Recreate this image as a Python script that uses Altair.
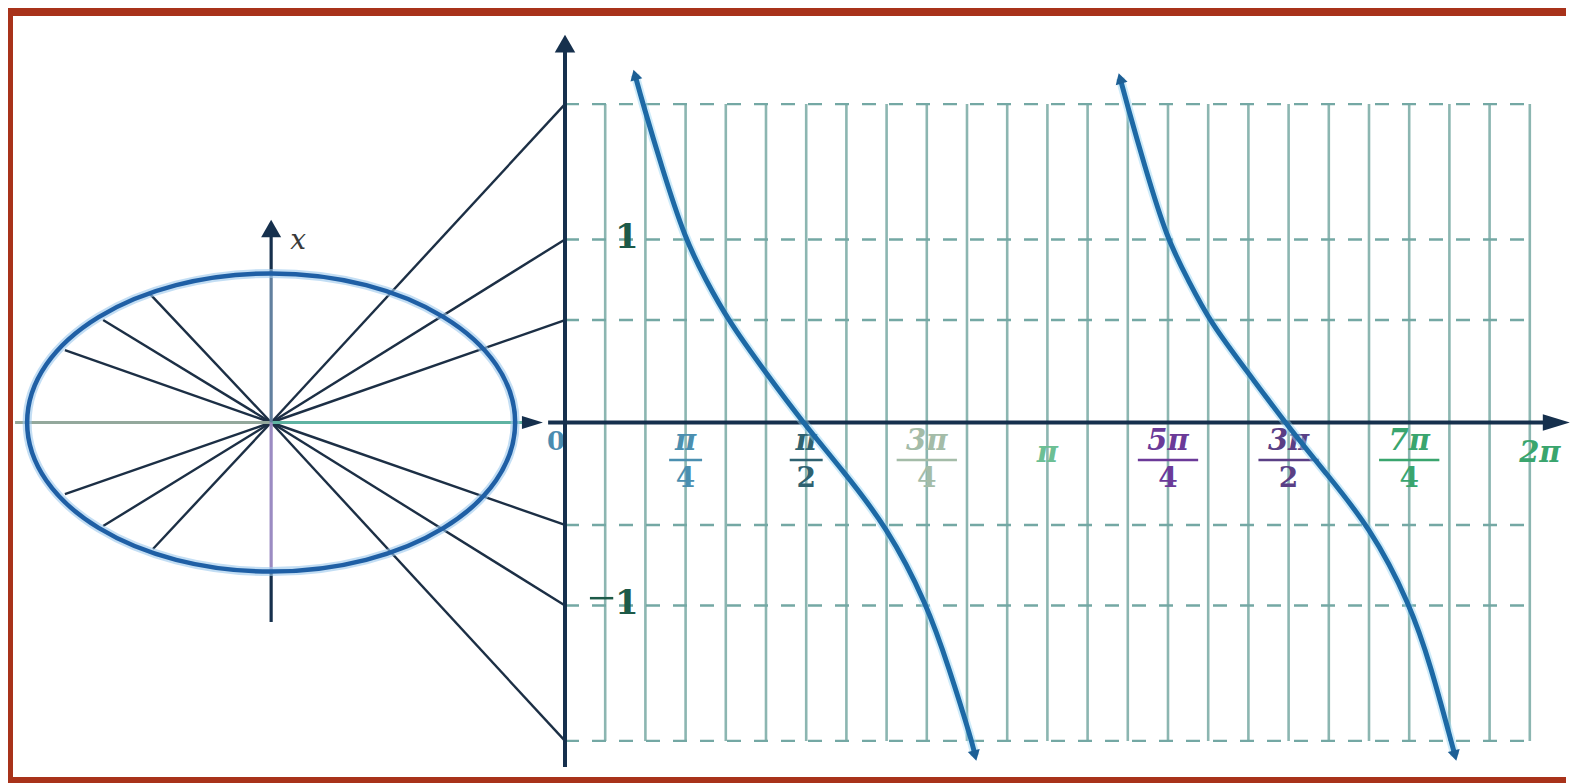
import altair as alt
import pandas as pd

# ---------------- data (x in units of pi/12, y in cot units) ----------------
grid_k = list(range(1, 25))
grid_top, grid_bottom = 1.74, -1.74
dash_levels = [1.74, 1.0, 0.56, -0.56, -1.0, -1.74]
dash_end = 24.0

circle_cx, circle_cy = -7.31, 0.0
ray_right_y = [1.74, 1.0, 0.56, -0.56, -1.0, -1.74]
ray_left_x = [-12.44, -11.49, -10.35, -12.44, -11.49, -10.25]
ray_left_y = [0.396, 0.56, 0.708, -0.391, -0.566, -0.691]

curve1_x = [1.74, 1.94, 2.40, 2.99, 3.50, 4.05, 5.00, 5.92, 6.90, 8.01, 9.00, 9.55, 10.12, 10.20]
curve1_y = [1.90, 1.74, 1.40, 1.00, 0.78, 0.56, 0.27, 0.00, -0.26, -0.57, -0.99, -1.34, -1.74, -1.82]
curve2_x = [13.81, 13.98, 14.42, 14.98, 15.50, 16.04, 17.00, 17.91, 18.90, 20.02, 21.02, 21.55, 22.04, 22.14]
curve2_y = [1.88, 1.74, 1.40, 1.00, 0.78, 0.55, 0.27, 0.00, -0.27, -0.57, -0.99, -1.34, -1.74, -1.82]

frac_pos = [3, 6, 9, 15, 18, 21]
frac_num = ["π", "π", "3π", "5π", "3π", "7π"]
frac_den = ["4", "2", "4", "4", "2", "4"]
frac_col = ["#4b8fb0", "#2f6270", "#a4bca8", "#6b3a98", "#5a3f85", "#3aa56e"]
frac_wide = [0, 0, 1, 1, 1, 1]
single_pos = [12, 24.25]
single_txt = ["π", "2π"]
single_col = ["#6cbf94", "#3aa56e"]

# ---------------- layout ----------------
W, H = 1570, 775
PX, PY = 40.2, 183.0
X0, Y0 = 557.0, 414.5
xs = alt.Scale(domain=[-X0 / PX, (W - X0) / PX], nice=False, zero=False)
ys = alt.Scale(domain=[-(H - Y0) / PY, Y0 / PY], nice=False, zero=False)

NAVY = "#16304d"


def X(f="x"):
    return alt.X(f"{f}:Q", scale=xs, axis=None)


def Y(f="y"):
    return alt.Y(f"{f}:Q", scale=ys, axis=None)


def rules(df, **kw):
    return alt.Chart(df).mark_rule(**kw).encode(
        x=X("x"), x2="x2:Q", y=Y("y"), y2="y2:Q"
    )


layers = []

# frame (decoration)
one = pd.DataFrame({"a": [0]})
RED = "#a8321a"
layers.append(alt.Chart(one).mark_rule(color=RED, strokeWidth=6).encode(
    x=alt.value(2), y=alt.value(0), y2=alt.value(H)))
layers.append(alt.Chart(one).mark_rule(color=RED, strokeWidth=8).encode(
    x=alt.value(0), x2=alt.value(W - 12), y=alt.value(4)))
layers.append(alt.Chart(one).mark_rule(color=RED, strokeWidth=6).encode(
    x=alt.value(0), x2=alt.value(W - 12), y=alt.value(H - 3)))

# vertical grid lines
gdf = pd.DataFrame({"x": grid_k, "x2": grid_k,
                    "y": [grid_bottom] * len(grid_k), "y2": [grid_top] * len(grid_k)})
layers.append(rules(gdf, color="#8cb6b1", strokeWidth=2.6))

# dashed horizontal lines
ddf = pd.DataFrame({"x": [0] * len(dash_levels), "x2": [dash_end] * len(dash_levels),
                    "y": dash_levels, "y2": dash_levels})
layers.append(rules(ddf, color="#74a8a4", strokeWidth=2.4, strokeDash=[14, 13]))

# rays from the centre of the circle
rr = pd.DataFrame({"x": [circle_cx] * 6, "y": [circle_cy] * 6,
                   "x2": [0] * 6, "y2": ray_right_y})
layers.append(rules(rr, color="#1c2f45", strokeWidth=2.4))
rl = pd.DataFrame({"x": [circle_cx] * 6, "y": [circle_cy] * 6,
                   "x2": ray_left_x, "y2": ray_left_y})
layers.append(rules(rl, color="#1c2f45", strokeWidth=2.4))

# circle axes (coloured segments)
seg = pd.DataFrame({
    "x": [-13.68, circle_cx, circle_cx, circle_cx, circle_cx, circle_cx],
    "x2": [circle_cx, -0.85, circle_cx, circle_cx, circle_cx, circle_cx],
    "y": [0, 0, 0.814, 0, -0.814, -1.09],
    "y2": [0, 0, 1.03, 0.814, 0, -0.814],
    "c": ["#93a89c", "#5fb3a2", NAVY, "#62809f", "#9b8bc2", NAVY],
})
layers.append(alt.Chart(seg).mark_rule(strokeWidth=3.2).encode(
    x=X("x"), x2="x2:Q", y=Y("y"), y2="y2:Q", color=alt.Color("c:N", scale=None)))

# ellipse ("unit circle")
k, c = 0.611, 0.5523
ck = c * k
ell = (f"M-1,0 C-1,-{ck:.4f} -{c},-{k} 0,-{k} C{c},-{k} 1,-{ck:.4f} 1,0 "
       f"C1,{ck:.4f} {c},{k} 0,{k} C-{c},{k} -1,{ck:.4f} -1,0 Z")
cdf = pd.DataFrame({"x": [circle_cx], "y": [circle_cy]})
layers.append(alt.Chart(cdf).mark_point(shape=ell, filled=False, size=488 ** 2,
                                        stroke="#9cc9ee", strokeWidth=9, opacity=0.6).encode(x=X(), y=Y()))
layers.append(alt.Chart(cdf).mark_point(shape=ell, filled=False, size=488 ** 2,
                                        stroke="#1f5fa5", strokeWidth=4.5, opacity=1).encode(x=X(), y=Y()))

# labels near axes
layers.append(alt.Chart(pd.DataFrame({"x": [-6.64], "y": [0.99], "t": ["x"]})).mark_text(
    font="DejaVu Serif", fontStyle="italic", fontSize=28, color="#3a3a3a").encode(x=X(), y=Y(), text="t:N"))
layers.append(alt.Chart(pd.DataFrame({"x": [-0.22], "y": [-0.107], "t": ["0"]})).mark_text(
    font="DejaVu Serif", fontWeight="bold", fontSize=26, color="#4a8cb0").encode(x=X(), y=Y(), text="t:N"))

# arrow shapes
ARW_R = "M-1,-0.62 L1,0 L-1,0.62 Z"
layers.append(alt.Chart(pd.DataFrame({"x": [-0.81], "y": [0]})).mark_point(
    shape=ARW_R, filled=True, size=441, color=NAVY, opacity=1).encode(x=X(), y=Y()))
layers.append(alt.Chart(pd.DataFrame({"x": [circle_cx], "y": [1.06]})).mark_point(
    shape="triangle-up", filled=True, size=400, color=NAVY, opacity=1).encode(x=X(), y=Y()))

# main axes
ax = pd.DataFrame({"x": [-0.42, 0], "x2": [24.38, 0], "y": [0, -1.883], "y2": [0, 2.03]})
layers.append(rules(ax, color=NAVY, strokeWidth=4))
layers.append(alt.Chart(pd.DataFrame({"x": [24.66], "y": [0]})).mark_point(
    shape=ARW_R, filled=True, size=729, color=NAVY, opacity=1).encode(x=X(), y=Y()))
layers.append(alt.Chart(pd.DataFrame({"x": [0], "y": [2.07]})).mark_point(
    shape="triangle-up", filled=True, size=420, color=NAVY, opacity=1).encode(x=X(), y=Y()))

# y labels
layers.append(alt.Chart(pd.DataFrame({"x": [1.54], "y": [1.01], "t": ["1"]})).mark_text(
    font="DejaVu Serif", fontWeight="bold", fontSize=34, color="#1d5a48").encode(x=X(), y=Y(), text="t:N"))
layers.append(alt.Chart(pd.DataFrame({"x": [1.54], "y": [-0.99], "t": ["1"]})).mark_text(
    font="DejaVu Serif", fontWeight="bold", fontSize=34, color="#1d5a48").encode(x=X(), y=Y(), text="t:N"))
layers.append(rules(pd.DataFrame({"x": [0.62], "x2": [1.2], "y": [-0.96], "y2": [-0.96]}),
                    color="#1d5a48", strokeWidth=2.5))

# fraction labels
fr = pd.DataFrame({"x": frac_pos, "num": frac_num, "den": frac_den, "c": frac_col,
                   "w": frac_wide})
fr["ynum"] = -0.101
fr["yden"] = -0.309
fr["ybar"] = -0.205
fr["xl"] = fr["x"] - 0.41 - 0.34 * fr["w"]
fr["xr"] = fr["x"] + 0.41 + 0.34 * fr["w"]
num_txt = dict(font="DejaVu Serif", fontWeight="bold", fontStyle="italic", fontSize=29,
               align="center", baseline="middle")
den_txt = dict(font="DejaVu Serif", fontWeight="bold", fontSize=28,
               align="center", baseline="middle")
layers.append(alt.Chart(fr).mark_text(**num_txt).encode(
    x=X("x"), y=Y("ynum"), text="num:N", color=alt.Color("c:N", scale=None)))
layers.append(alt.Chart(fr).mark_text(**den_txt).encode(
    x=X("x"), y=Y("yden"), text="den:N", color=alt.Color("c:N", scale=None)))
layers.append(alt.Chart(fr).mark_rule(strokeWidth=2.5).encode(
    x=X("xl"), x2="xr:Q", y=Y("ybar"), y2="ybar:Q", color=alt.Color("c:N", scale=None)))
sg = pd.DataFrame({"x": single_pos, "t": single_txt, "c": single_col})
sg["y"] = -0.167
layers.append(alt.Chart(sg).mark_text(**num_txt).encode(
    x=X("x"), y=Y("y"), text="t:N", color=alt.Color("c:N", scale=None)))

# cotangent branches
cv = pd.concat([
    pd.DataFrame({"x": curve1_x, "y": curve1_y, "b": "1"}),
    pd.DataFrame({"x": curve2_x, "y": curve2_y, "b": "2"}),
])
layers.append(alt.Chart(cv).mark_line(interpolate="basis", color="#93d2f2",
                                      strokeWidth=9, opacity=0.45).encode(x=X(), y=Y(), detail="b:N"))
layers.append(alt.Chart(cv).mark_line(interpolate="basis", color="#1d69a5",
                                      strokeWidth=5).encode(x=X(), y=Y(), detail="b:N"))
tips_top = pd.DataFrame({"x": [curve1_x[0], curve2_x[0]], "y": [curve1_y[0], curve2_y[0]]})
tips_bot = pd.DataFrame({"x": [curve1_x[-1], curve2_x[-1]], "y": [curve1_y[-1], curve2_y[-1]]})
layers.append(alt.Chart(tips_top).mark_point(shape="triangle-up", filled=True, size=150,
                                             angle=344, color="#1d5f95", opacity=1).encode(x=X(), y=Y()))
layers.append(alt.Chart(tips_bot).mark_point(shape="triangle-down", filled=True, size=150,
                                             angle=346, color="#1d5f95", opacity=1).encode(x=X(), y=Y()))

chart = alt.layer(*layers).properties(
    width=W, height=H, padding=0, autosize=alt.AutoSizeParams(type="none"),
    background="white"
).configure_view(stroke=None)

chart.save("out.html", embed_options={"renderer": "svg", "actions": False})
